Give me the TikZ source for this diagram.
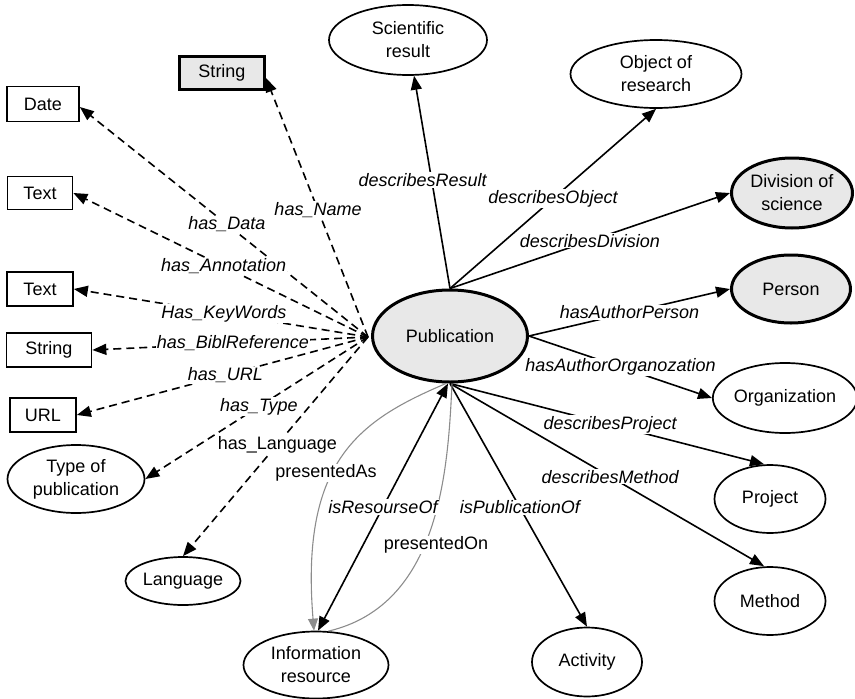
\documentclass[tikz,border=0pt]{standalone}
\usepackage{fontspec}
\setmainfont{Liberation Sans}
\usetikzlibrary{shapes.geometric,arrows.meta,calc}
\begin{document}
\begin{tikzpicture}[x=1pt,y=-1pt,
  every node/.style={font=\fontsize{18}{23}\selectfont},
  ell/.style={ellipse,draw,line width=1.7pt,inner sep=0pt,align=center},
  gell/.style={ell,fill=black!9,line width=3pt},
  box/.style={rectangle,draw,line width=1.7pt,inner sep=0pt},
  gbox/.style={box,fill=black!9,line width=3pt},
  rel/.style={line width=1.6pt,-{Triangle[length=14pt,width=11pt]}},
  drel/.style={rel,dash pattern=on 8pt off 5pt},
  biRel/.style={line width=1.6pt,{Triangle[length=14pt,width=11pt]}-{Triangle[length=14pt,width=11pt]}},
  grel/.style={line width=1.1pt,black!45},
  lab/.style={fill=white,inner sep=1pt,font=\fontsize{18}{20}\selectfont\itshape},
  ulab/.style={fill=white,inner sep=1pt,font=\fontsize{18}{20}\selectfont},
]
\useasboundingbox (0,0) rectangle (855,699);

% central node
\node[gell,minimum width=155pt,minimum height=92pt] (pub) at (450,336) {Publication};

% right-hand classes
\node[ell,minimum width=158pt,minimum height=70pt] (sci) at (408,40) {Scientific\\result};
\node[ell,minimum width=171pt,minimum height=68pt] (obj) at (656,74) {Object of\\research};
\node[gell,minimum width=121pt,minimum height=70pt] (div) at (792,193) {Division of\\science};
\node[gell,minimum width=119pt,minimum height=68pt] (per) at (791,289) {Person};
\node[ell,minimum width=140pt,minimum height=70pt] (org) at (785,398) {Organization};
\node[ell,minimum width=111pt,minimum height=68pt] (proj) at (770,499) {Project};
\node[ell,minimum width=111pt,minimum height=68pt] (meth) at (770,601) {Method};
\node[ell,minimum width=110pt,minimum height=69pt] (act) at (587,662) {Activity};
\node[ell,minimum width=145pt,minimum height=67pt] (ir) at (316,665) {Information\\resource};

% left-hand datatypes
\node[gbox,minimum width=85pt,minimum height=33pt] (strT) at (222,73) {String};
\node[box,minimum width=72pt,minimum height=35pt] (date) at (43,104) {Date};
\node[box,minimum width=65pt,minimum height=33pt] (txtA) at (40,193) {Text};
\node[box,minimum width=66pt,minimum height=34pt] (txtB) at (40,289) {Text};
\node[box,minimum width=85pt,minimum height=34pt] (strL) at (49,350) {String};
\node[box,minimum width=66pt,minimum height=34pt] (url) at (43,415) {URL};
\node[ell,minimum width=137pt,minimum height=68pt] (typ) at (76,479) {Type of\\publication};
\node[ell,minimum width=115pt,minimum height=48pt] (lang) at (183,581) {Language};

% dashed data properties
\coordinate (hub) at (368,337);
\draw[drel] (hub) -- ([yshift=-5pt]strT.east) node[lab,pos=0.49]{has\_Name};
\draw[drel] (hub) -- ([yshift=-3pt]date.east) node[lab,pos=0.49]{has\_Data};
\draw[drel] (hub) -- (txtA.east) node[lab,pos=0.49]{has\_Annotation};
\draw[drel] (hub) -- (txtB.east) node[lab,pos=0.49]{Has\_KeyWords};
\draw[drel] (hub) -- (strL.east) node[lab,pos=0.49]{has\_BiblReference};
\draw[drel] (hub) -- (url.east) node[lab,pos=0.49]{has\_URL};
\draw[drel] (hub) -- (typ.east) node[lab,pos=0.49]{has\_Type};
\draw[drel] (hub) -- (lang.north) node[ulab,pos=0.49]{has\_Language};

% solid object properties
\draw[rel] (pub.north) -- (sci) node[lab,pos=0.51,xshift=-9pt]{describesResult};
\draw[rel] (pub.north) -- (obj.south) node[lab,pos=0.5]{describesObject};
\draw[rel] (pub.north) -- (div.west) node[lab,pos=0.5]{describesDivision};
\draw[rel] (pub.east) -- (per.west) node[lab,pos=0.5]{hasAuthorPerson};
\draw[rel] (pub.east) -- (org.west) node[lab,pos=0.5]{hasAuthorOrganozation};
\draw[rel] (pub.south) -- ([xshift=-6pt]proj.north) node[lab,pos=0.51]{describesProject};
\draw[rel] (pub.south) -- ([xshift=-6pt]meth.north) node[lab,pos=0.51]{describesMethod};
\draw[rel] (pub.south) -- (act.north) node[lab,pos=0.51]{isPublicationOf};

% information resource links
\draw[grel,-{Triangle[length=12pt,width=10pt]}] ([xshift=-4pt]pub.south) .. controls (360,420) and (300,460) .. ([xshift=-2pt]ir.north);
\draw[grel] (ir.70) .. controls (440,605) and (448,470) .. ([xshift=2pt]pub.south);
\draw[biRel] ([xshift=2pt]ir.north) -- ([xshift=-2pt]pub.south) node[lab,pos=0.5]{isResourseOf};
\node[ulab] (lpa) at (326,473) {presentedAs};
\node[ulab] (lpo) at (436,545) {presentedOn};
\end{tikzpicture}
\end{document}
